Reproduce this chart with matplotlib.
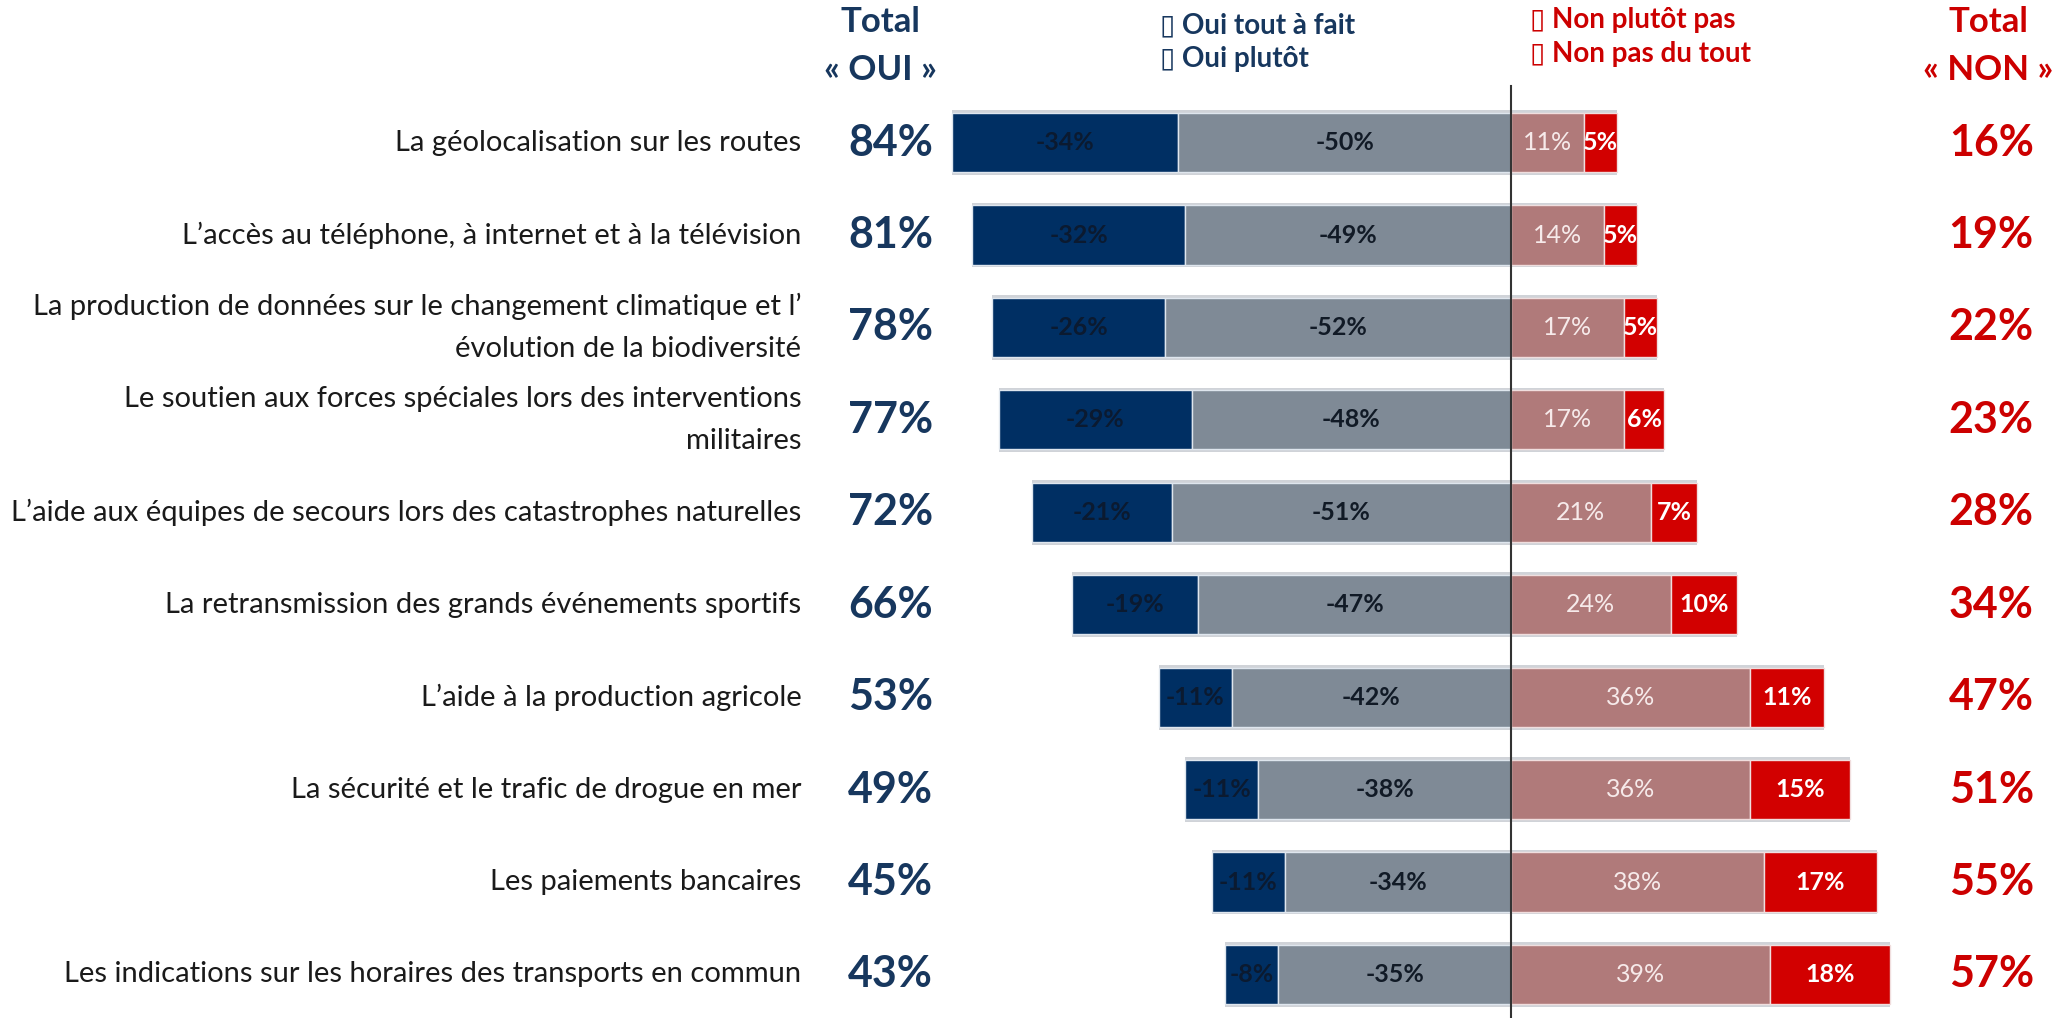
import matplotlib.pyplot as plt

plt.rcParams['font.family'] = ['Lato', 'DejaVu Sans']

categories = [
    "La géolocalisation sur les routes",
    "L’accès au téléphone, à internet et à la télévision",
    "La production de données sur le changement climatique et l’\névolution de la biodiversité",
    "Le soutien aux forces spéciales lors des interventions\nmilitaires",
    "L’aide aux équipes de secours lors des catastrophes naturelles",
    "La retransmission des grands événements sportifs",
    "L’aide à la production agricole",
    "La sécurité et le trafic de drogue en mer",
    "Les paiements bancaires",
    "Les indications sur les horaires des transports en commun",
]
oui_tout = [34, 32, 26, 29, 21, 19, 11, 11, 11, 8]
oui_plutot = [50, 49, 52, 48, 51, 47, 42, 38, 34, 35]
non_plutot = [11, 14, 17, 17, 21, 24, 36, 36, 38, 39]
non_tout = [5, 5, 5, 6, 7, 10, 11, 15, 17, 18]
total_oui = [84, 81, 78, 77, 72, 66, 53, 49, 45, 43]
total_non = [16, 19, 22, 23, 28, 34, 47, 51, 55, 57]

navy = "#002f63"
grey = "#7f8a96"
pink = "#b07a7a"
red = "#d20000"
blue_txt = "#17375e"
red_txt = "#cc0000"

fig = plt.figure(figsize=(20.69, 10.18), dpi=100)
ax = fig.add_axes([0, 0, 1, 1])
ax.set_xlim(-227.2, 83.9)
ax.set_ylim(9.471, -1.543)
ax.axis("off")

h = 0.64
for i in range(len(categories)):
    a, b, c, d = oui_tout[i], oui_plutot[i], non_plutot[i], non_tout[i]
    # contour gris clair autour de la barre
    ax.barh(i, a + b + c + d, left=-(a + b), height=h + 0.06, color="#d0d3d8", zorder=1)
    ax.barh(i, a, left=-(a + b), height=h, color=navy, edgecolor="#dfe6ee", linewidth=1, zorder=2)
    ax.barh(i, b, left=-b, height=h, color=grey, edgecolor="#dfe6ee", linewidth=1, zorder=2)
    ax.barh(i, c, left=0, height=h, color=pink, edgecolor="#f0dede", linewidth=1, zorder=2)
    ax.barh(i, d, left=c, height=h, color=red, edgecolor="#f0dede", linewidth=1, zorder=2)

    ax.text(-(a + b) + a / 2, i, "-" + str(a) + "%", ha="center", va="center",
            fontsize=18, color="#0b1a30", fontweight="bold", zorder=3)
    ax.text(-b / 2, i, "-" + str(b) + "%", ha="center", va="center",
            fontsize=18, color="#111a26", fontweight="bold", zorder=3)
    ax.text(c / 2, i, str(c) + "%", ha="center", va="center",
            fontsize=18, color="#f6eaea", zorder=3)
    ax.text(c + d / 2, i, str(d) + "%", ha="center", va="center",
            fontsize=18, color="white", fontweight="bold", zorder=3)

    ax.text(-106.7, i, categories[i], ha="right", va="center", fontsize=21,
            color="#1a1a1a", linespacing=1.75)
    ax.text(-93.3, i, str(total_oui[i]) + "%", ha="center", va="center",
            fontsize=31, color=blue_txt, fontweight="bold")
    ax.text(72.2, i, str(total_non[i]) + "%", ha="center", va="center",
            fontsize=31, color=red_txt, fontweight="bold")

# ligne centrale
ax.plot([0, 0], [-0.614, 9.471], color="#333333", linewidth=1.5, zorder=4)

# titres
ax.text(-94.8, -1.3, "Total", ha="center", va="center", fontsize=25,
        color=blue_txt, fontweight="bold")
ax.text(-94.8, -0.79, "« OUI »", ha="center", va="center", fontsize=25,
        color=blue_txt, fontweight="bold")
ax.text(71.8, -1.3, "Total", ha="center", va="center", fontsize=25,
        color=red_txt, fontweight="bold")
ax.text(71.8, -0.79, "« NON »", ha="center", va="center", fontsize=25,
        color=red_txt, fontweight="bold")

ax.text(-52.8, -1.27, "\u25af Oui tout à fait", ha="left", va="center", fontsize=20,
        color=blue_txt, fontweight="bold")
ax.text(-52.8, -0.91, "\u25af Oui plutôt", ha="left", va="center", fontsize=20,
        color=blue_txt, fontweight="bold")
ax.text(2.8, -1.33, "\u25af Non plutôt pas", ha="left", va="center", fontsize=20,
        color=red_txt, fontweight="bold")
ax.text(2.8, -0.96, "\u25af Non pas du tout", ha="left", va="center", fontsize=20,
        color=red_txt, fontweight="bold")

fig.savefig("out.png", dpi=100)
